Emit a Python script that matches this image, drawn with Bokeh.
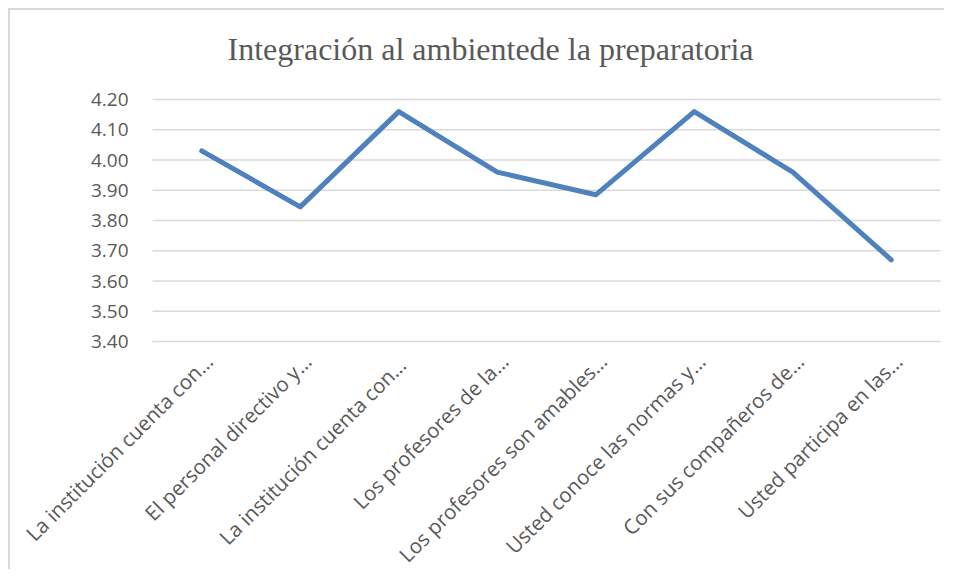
import math
from bokeh.plotting import figure
from bokeh.models import ColumnDataSource, Range1d, Label
from bokeh.core.properties import value
from bokeh.embed import file_html
from bokeh.resources import INLINE

categories = [
    "La institución cuenta con…",
    "El personal directivo y…",
    "La institución  cuenta con…",
    "Los profesores de la…",
    "Los profesores son amables…",
    "Usted conoce las normas y…",
    "Con sus compañeros de…",
    "Usted participa en las…",
]
values = [4.03, 3.845, 4.16, 3.96, 3.885, 4.16, 3.96, 3.67]
y_ticks = [3.40, 3.50, 3.60, 3.70, 3.80, 3.90, 4.00, 4.10, 4.20]
y_tick_labels = ["3.40", "3.50", "3.60", "3.70", "3.80", "3.90", "4.00", "4.10", "4.20"]
title_text = "Integración al ambientede la preparatoria"

# layout geometry (pixels in canvas)
W, H = 936, 561
LEFT, RIGHT = 142, 6                    # plot area inset
PLOT_TOP, PLOT_BOTTOM = 89, 331         # where 4.20 and 3.40 sit
n = len(categories)
y_lo, y_hi = y_ticks[0], y_ticks[-1]
upp = (y_hi - y_lo) / (PLOT_BOTTOM - PLOT_TOP)   # data units per pixel (y)
cat_w = (W - LEFT - RIGHT) / n                    # pixels per category
xpp = 1 / cat_w                                   # data units per pixel (x)

pos = [i + 0.5 for i in range(n)]
src = ColumnDataSource(dict(cat=categories, x=pos, val=values,
                            lab_x=[v + 7 * xpp for v in pos],
                            lab_y=[y_lo - 16 * upp] * n))
grid_src = ColumnDataSource(dict(y=y_ticks, lab=y_tick_labels,
                                 x0=[0] * len(y_ticks), x1=[n] * len(y_ticks),
                                 lx=[-24 * xpp] * len(y_ticks)))

p = figure(
    x_range=Range1d(-LEFT * xpp, n + RIGHT * xpp),
    y_range=Range1d(y_lo - (H - PLOT_BOTTOM) * upp, y_hi + PLOT_TOP * upp),
    width=W,
    height=H,
    output_backend="svg",
    toolbar_location=None,
    min_border=0,
)
p.styles = {"border-left": "2px solid #d9d9d9", "border-top": "2px solid #d9d9d9",
            "margin-left": "8px", "margin-top": "8px"}
p.axis.visible = False
p.grid.visible = False
p.outline_line_color = None
p.background_fill_color = "white"
p.border_fill_color = "white"

# horizontal gridlines and value labels
p.segment(x0="x0", x1="x1", y0="y", y1="y", source=grid_src,
          line_color="#d9d9d9", line_width=1.5)
p.text(x="lx", y="y", text="lab", source=grid_src, text_align="right",
       text_baseline="middle", text_font=value("Open Sans"), text_font_size="19px",
       text_color="#595959")

# data line
p.line("x", "val", source=src, line_color="#4f81bd", line_width=5,
       line_cap="round", line_join="round")

# category labels, rotated 45 degrees below the plot area
p.text(x="lab_x", y="lab_y", text="cat", source=src,
       angle=math.pi / 4, text_align="right", text_baseline="middle",
       text_font=value("Open Sans"), text_font_size="20.5px", text_color="#595959")

# chart title
title = Label(x=(480 - LEFT) * xpp, y=y_hi + (PLOT_TOP - 38) * upp, text=title_text,
              text_align="center", text_baseline="middle", text_font="Liberation Serif",
              text_font_size="32px", text_color="#595959")
p.add_layout(title)

open("out.html", "w").write(file_html(p, INLINE))
